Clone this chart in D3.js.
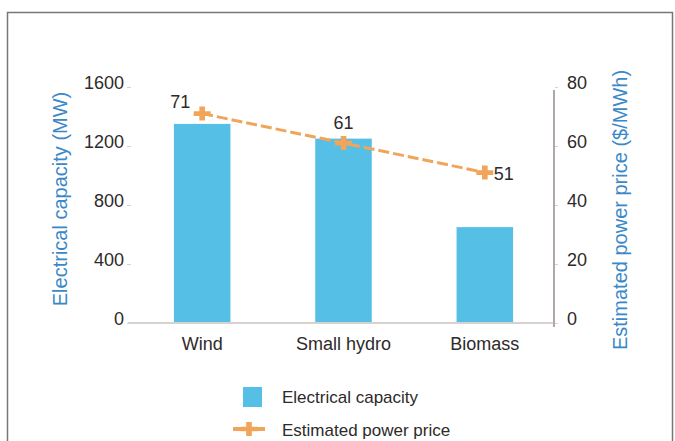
<!DOCTYPE html>
<html>
<head>
<meta charset="utf-8">
<script src="https://cdn.jsdelivr.net/npm/d3@7"></script>
<style>
  body { margin: 0; background: #fff; }
  svg { display: block; font-family: "Liberation Sans", Arial, sans-serif; }
</style>
</head>
<body>
<svg width="675" height="441"></svg>
<script>
// datos
const categories = ["Wind", "Small hydro", "Biomass"];
const capacity = [1350, 1250, 650];
const price = [71, 61, 51];
const leftTicks = [0, 400, 800, 1200, 1600];
const rightTicks = [0, 20, 40, 60, 80];
const legendLabels = ["Electrical capacity", "Estimated power price"];

const svg = d3.select("svg");
const blue = "#56bfe6", orange = "#f0a55a", txt = "#2e2a2a", titleBlue = "#3b88c8";

// marco
svg.append("path")
  .attr("d", "M7.5,460 V12.5 H672.5 V460")
  .attr("fill", "none").attr("stroke", "#777").attr("stroke-width", 1.5);

const x = d3.scaleBand().domain(categories).range([131.5, 555.5]).paddingInner(0.6).paddingOuter(0.3);
const yL = d3.scaleLinear().domain([0, 1600]).range([323, 87]);
const yR = d3.scaleLinear().domain([0, 80]).range([323, 87]);

// barras
svg.selectAll(".bar").data(categories).enter().append("rect")
  .attr("x", d => x(d)).attr("width", x.bandwidth())
  .attr("y", (d, i) => yL(capacity[i]))
  .attr("height", (d, i) => yL(0) - yL(capacity[i]))
  .attr("fill", blue);

// línea base y eje derecho
svg.append("line").attr("x1", 128).attr("x2", 555).attr("y1", 323).attr("y2", 323)
  .attr("stroke", "#d8d2ce").attr("stroke-width", 2);
svg.append("line").attr("x1", 554).attr("x2", 554).attr("y1", 90).attr("y2", 327)
  .attr("stroke", "#b0a8a6").attr("stroke-width", 2);

// eje izquierdo
const axL = svg.append("g").attr("transform", "translate(131,0)")
  .call(d3.axisLeft(yL).tickValues(leftTicks).tickFormat(d3.format("d")).tickSize(4).tickPadding(3));
axL.select(".domain").remove();
axL.selectAll(".tick line").attr("stroke", "#d8d2ce");
axL.selectAll("text").attr("fill", txt).style("font-size", "18px").attr("dy", "0.1em");

// eje derecho
const axR = svg.append("g").attr("transform", "translate(555,0)")
  .call(d3.axisRight(yR).tickValues(rightTicks).tickSize(3).tickPadding(9));
axR.select(".domain").remove();
axR.selectAll(".tick line").attr("stroke", "#d8d2ce");
axR.selectAll("text").attr("fill", txt).style("font-size", "18px").attr("dy", "0.1em");

// eje de categorías
const axB = svg.append("g").attr("transform", "translate(0,323)")
  .call(d3.axisBottom(x).tickSize(0).tickPadding(14));
axB.select(".domain").remove();
axB.selectAll("text").attr("fill", txt).style("font-size", "18px");

// títulos de ejes
svg.append("text").attr("transform", "translate(67,199) rotate(-90)")
  .attr("text-anchor", "middle").attr("fill", titleBlue).style("font-size", "20px")
  .text("Electrical capacity (MW)");
svg.append("text").attr("transform", "translate(627,210) rotate(-90)")
  .attr("text-anchor", "middle").attr("fill", titleBlue).style("font-size", "20px")
  .text("Estimated power price ($/MWh)");

// línea de precios
const cx = d => x(d) + x.bandwidth() / 2;
svg.append("path")
  .datum(categories)
  .attr("d", d3.line().x(cx).y((d, i) => yR(price[i])))
  .attr("fill", "none").attr("stroke", orange).attr("stroke-width", 3)
  .attr("stroke-dasharray", "11,4");

const marker = d3.symbol().type(d3.symbolCross).size(120);
svg.selectAll(".pt").data(categories).enter().append("path")
  .attr("d", marker)
  .attr("transform", (d, i) => `translate(${cx(d)},${yR(price[i])}) scale(1.15,0.95)`)
  .attr("fill", orange);

// etiquetas de valor
const lblOff = [[-22, -12], [0, -20], [19, 1]];
svg.selectAll(".lbl").data(categories).enter().append("text")
  .attr("x", (d, i) => cx(d) + lblOff[i][0])
  .attr("y", (d, i) => yR(price[i]) + lblOff[i][1])
  .attr("text-anchor", "middle").attr("dy", "0.35em")
  .attr("fill", txt).style("font-size", "18px")
  .text((d, i) => price[i]);

// leyenda
const lg = svg.append("g");
lg.append("rect").attr("x", 243).attr("y", 387).attr("width", 19).attr("height", 20).attr("fill", blue);
lg.append("line").attr("x1", 233).attr("x2", 265).attr("y1", 429).attr("y2", 429)
  .attr("stroke", orange).attr("stroke-width", 4);
lg.append("path").attr("d", marker).attr("transform", "translate(249,429) scale(1.15,0.95)").attr("fill", orange);
lg.selectAll(".lt").data(legendLabels).enter().append("text")
  .attr("x", 282).attr("y", (d, i) => 397 + i * 33).attr("dy", "0.35em")
  .attr("fill", txt).style("font-size", "17px")
  .text(d => d);
</script>
</body>
</html>
